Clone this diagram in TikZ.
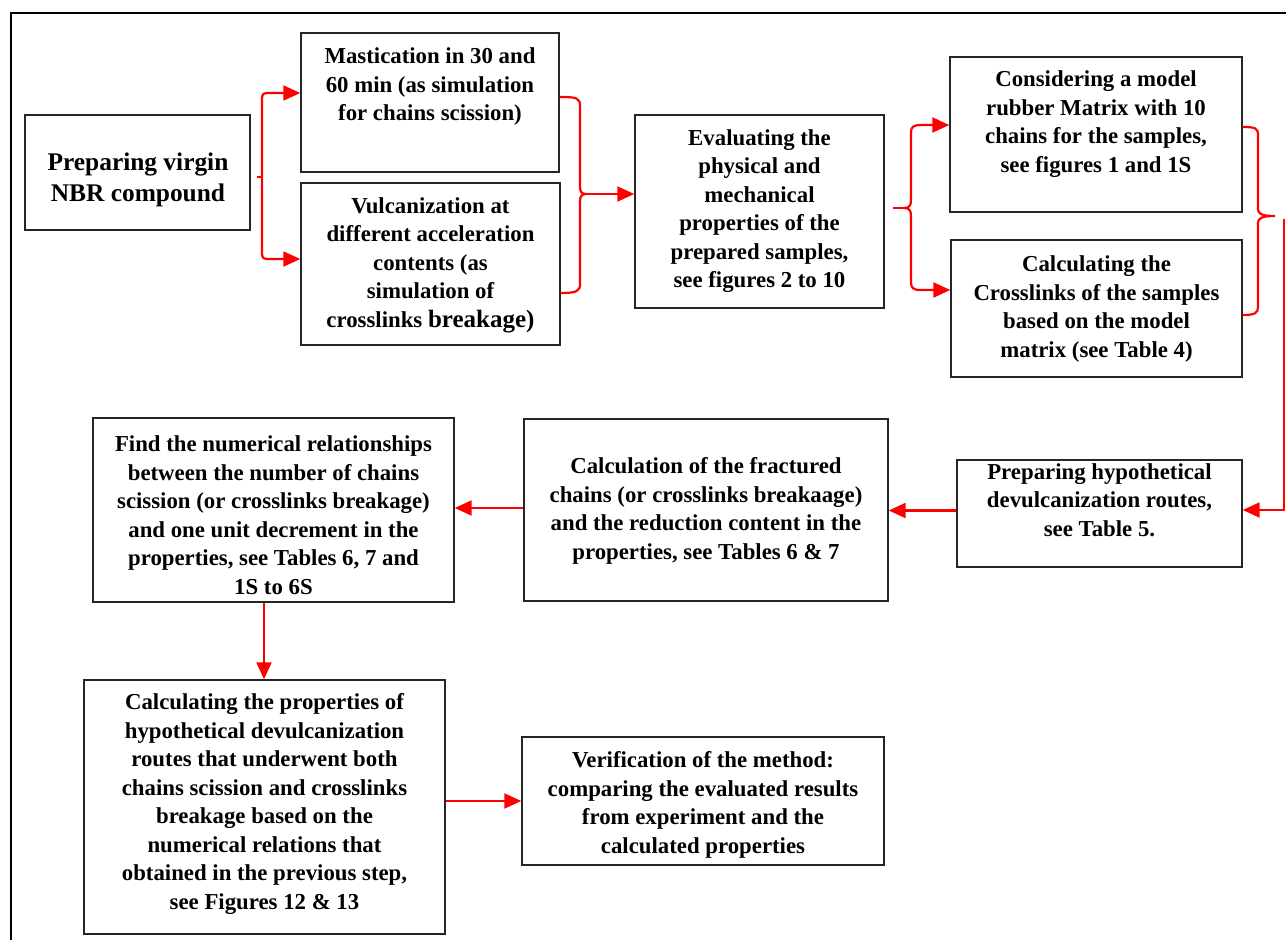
\documentclass[tikz,border=0pt]{standalone}
\usepackage{fontspec}
\setmainfont{Liberation Serif}
\usetikzlibrary{arrows.meta}
\tikzset{
  box/.style={draw=black!85, line width=1.4pt, inner sep=0pt, fill=none},
  txt/.style={inner sep=0pt, align=center, font=\bfseries\fontsize{22.8}{28.5}\selectfont},
  bigtxt/.style={inner sep=0pt, align=center, font=\bfseries\fontsize{25.4}{31.7}\selectfont},
  redline/.style={draw=red, line width=2.2pt},
  arr/.style={redline, -{Triangle[length=17pt,width=15pt]}},
}
\begin{document}
\begin{tikzpicture}[x=1pt,y=-1pt]
\useasboundingbox (0,0) rectangle (1286,940);
% outer frame
\draw[line width=2.6pt] (11,940) -- (11,13) -- (1290,13);

% boxes
\node[box, minimum width=225pt, minimum height=115pt] (A) at (137.5,172.5) {};
\node[box, minimum width=258pt, minimum height=139pt] (B) at (430,102.5) {};
\node[box, minimum width=259pt, minimum height=162pt] (C) at (430.5,264) {};
\node[box, minimum width=249pt, minimum height=193pt] (D) at (759.5,211.5) {};
\node[box, minimum width=292pt, minimum height=155pt] (E) at (1096,134.5) {};
\node[box, minimum width=291pt, minimum height=137pt] (F) at (1096.5,308.5) {};
\node[box, minimum width=285pt, minimum height=107pt] (G) at (1099.5,513.5) {};
\node[box, minimum width=364pt, minimum height=182pt] (H) at (706,510) {};
\node[box, minimum width=361pt, minimum height=184pt] (I) at (273.5,510) {};
\node[box, minimum width=361pt, minimum height=254pt] (J) at (264.5,807) {};
\node[box, minimum width=362pt, minimum height=128pt] (K) at (703,801) {};

% texts
\node[bigtxt] (tA) at (138,180) {Preparing virgin\\NBR compound};
\node[txt] (tB) at (430,87) {Mastication in 30 and\\60 min (as simulation\\for chains scission)};
\node[txt] (tC) at (430.5,265) {Vulcanization at\\different acceleration\\contents (as\\simulation of\\crosslinks {\fontsize{25}{28.5}\selectfont breakage)}};
\node[txt] (tD) at (759.5,211) {Evaluating the\\physical and\\mechanical\\properties of the\\prepared samples,\\see figures 2 to 10};
\node[txt] (tE) at (1096,124) {Considering a model\\rubber Matrix with 10\\chains for the samples,\\see figures 1 and 1S};
\node[txt] (tF) at (1096.5,309) {Calculating the\\Crosslinks of the samples\\based on the model\\matrix (see Table 4)};
\node[txt] (tG) at (1099.5,500) {Preparing hypothetical\\devulcanization routes,\\see Table 5.};
\node[txt] (tH) at (706,511) {Calculation of the fractured\\chains (or crosslinks breakaage)\\and the reduction content in the\\properties, see Tables 6 \& 7};
\node[txt] (tI) at (273.5,515) {Find the numerical relationships\\between the number of chains\\scission (or crosslinks breakage)\\and one unit decrement in the\\properties, see Tables 6, 7 and\\1S to 6S};
\node[txt] (tJ) at (264.5,804) {Calculating the properties of\\hypothetical devulcanization\\routes that underwent both\\chains scission and crosslinks\\breakage based on the\\numerical relations that\\obtained in the previous step,\\see Figures 12 \& 13};
\node[txt] (tK) at (703,805) {Verification of the method:\\comparing the evaluated results\\from experiment and the\\calculated properties};

% A -> B, C
\coordinate (a0) at (257,177);
\coordinate (a1) at (262,177);
\draw[redline] (a0) -- (a1);
\draw[arr, rounded corners=4pt] (a1) |- ([yshift=9.5pt]B.west);
\draw[arr, rounded corners=4pt] (a1) |- ([yshift=5pt]C.west);

% brace B, C -> D
\coordinate (t1) at (586,194);
\draw[redline] ([yshift=5.5pt]B.east) .. controls (577,97) and (580,98) .. (580,106)
  -- (580,187) .. controls (580,192) and (582,194) .. (t1)
  .. controls (582,194) and (580,196) .. (580,201)
  -- (580,284) .. controls (580,291) and (577,293) .. ([yshift=-29pt]C.east);
\draw[arr] (t1) -- (t1 -| D.west);

% D -> E, F
\coordinate (d0) at (893,208);
\coordinate (d1) at (904,208);
\draw[redline] (d0) -- (d1);
\draw[arr] (d1) .. controls (909,208) and (911,206) .. (911,200) -- (911,133)
  .. controls (911,127) and (913,125) .. (921,125) -- ([yshift=9.5pt]E.west);
\draw[arr] (d1) .. controls (909,208) and (911,210) .. (911,216) -- (911,282)
  .. controls (911,288) and (913,290) .. (921,290) -- ([yshift=18.5pt]F.west);

% brace E, F -> G
\coordinate (t3) at (1275,216);
\draw[redline] ([yshift=7.5pt]E.east) .. controls (1255,127) and (1258,128) .. (1258,135)
  -- (1258,209) .. controls (1258,214) and (1262,216) .. (t3)
  .. controls (1262,216) and (1258,218) .. (1258,223)
  -- (1258,307) .. controls (1258,313) and (1255,315) .. ([yshift=-6.5pt]F.east);
\coordinate (g0) at (1284,219);
\draw[arr] (g0) |- ([yshift=3.5pt]G.east);

% G -> H, H -> I, I -> J, J -> K
\draw[arr] ([yshift=3pt]G.west) -- ([yshift=3pt]G.west -| H.east);
\draw[arr] ([yshift=2pt]H.west) -- ([yshift=2pt]H.west -| I.east);
\draw[arr] ([xshift=-9.5pt]I.south) -- ([xshift=-9.5pt]I.south |- J.north);
\draw[arr] ([yshift=6pt]J.east) -- ([yshift=6pt]J.east -| K.west);
\end{tikzpicture}
\end{document}
